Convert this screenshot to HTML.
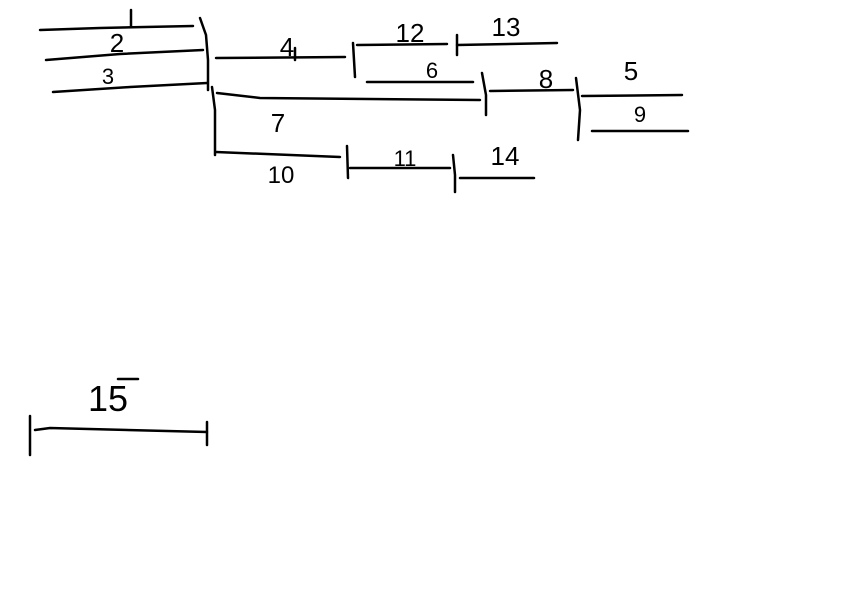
<!DOCTYPE html>
<html><head><meta charset="utf-8"><style>
html,body{margin:0;padding:0;background:#fff;width:854px;height:598px;overflow:hidden}
svg{display:block}
text{font-family:"Liberation Sans",sans-serif;font-size:26px;fill:#000;text-anchor:middle}
line,polyline{stroke:#000;stroke-width:2.5;fill:none;stroke-linecap:round}
</style></head><body>
<svg width="854" height="598">
<g>
<polyline points="40,30 100,28 193,26"/><line x1="131" y1="10" x2="131" y2="26"/></g>
<g>
<text x="117" y="52">2</text><polyline points="46,60 120,54 203,50"/></g>
<g>
<text x="108" y="84" style="font-size:22px">3</text><polyline points="53,92 130,87 207,83"/></g>
<polyline points="200,18 206,35 208,60 208,90"/>
<g>
<text x="287" y="56">4</text><line x1="216" y1="58" x2="345" y2="57"/><line x1="295" y1="48" x2="295" y2="60"/></g>
<line x1="353" y1="43" x2="355" y2="77"/>
<g>
<text x="410" y="42">12</text><line x1="357" y1="45" x2="447" y2="44"/></g>
<g>
<line x1="457" y1="35" x2="457" y2="55"/><text x="506" y="36">13</text><line x1="457" y1="45" x2="557" y2="43"/></g>
<g>
<text x="432" y="78" style="font-size:22px">6</text><line x1="367" y1="82" x2="473" y2="82"/></g>
<polyline points="212,87 215,110 215,155"/>
<g>
<text x="278" y="132">7</text><polyline points="217,93 260,98 480,100"/></g>
<polyline points="482,73 486,95 486,115"/>
<g>
<text x="546" y="88">8</text><line x1="490" y1="91" x2="573" y2="90"/></g>
<polyline points="576,78 580,110 578,140"/>
<g>
<text x="631" y="80">5</text><line x1="582" y1="96" x2="682" y2="95"/></g>
<g>
<text x="640" y="122" style="font-size:22px">9</text><line x1="592" y1="131" x2="688" y2="131"/></g>
<g>
<line x1="216" y1="152" x2="340" y2="157"/><text x="281" y="183" style="font-size:24px">10</text></g>
<g>
<line x1="347" y1="146" x2="348" y2="178"/><text x="405" y="166" style="font-size:22px">11</text><line x1="350" y1="168" x2="450" y2="168"/></g>
<g>
<polyline points="453,155 455,175 455,192"/><text x="505" y="165">14</text><line x1="460" y1="178" x2="534" y2="178"/></g>
<g>
<line x1="30" y1="416" x2="30" y2="455"/><polyline points="35,430 50,428 207,432"/><line x1="207" y1="422" x2="207" y2="445"/>
<text x="108" y="411" style="font-size:36px">15</text><line x1="118" y1="379" x2="138" y2="379"/></g>
</svg>
</body></html>
